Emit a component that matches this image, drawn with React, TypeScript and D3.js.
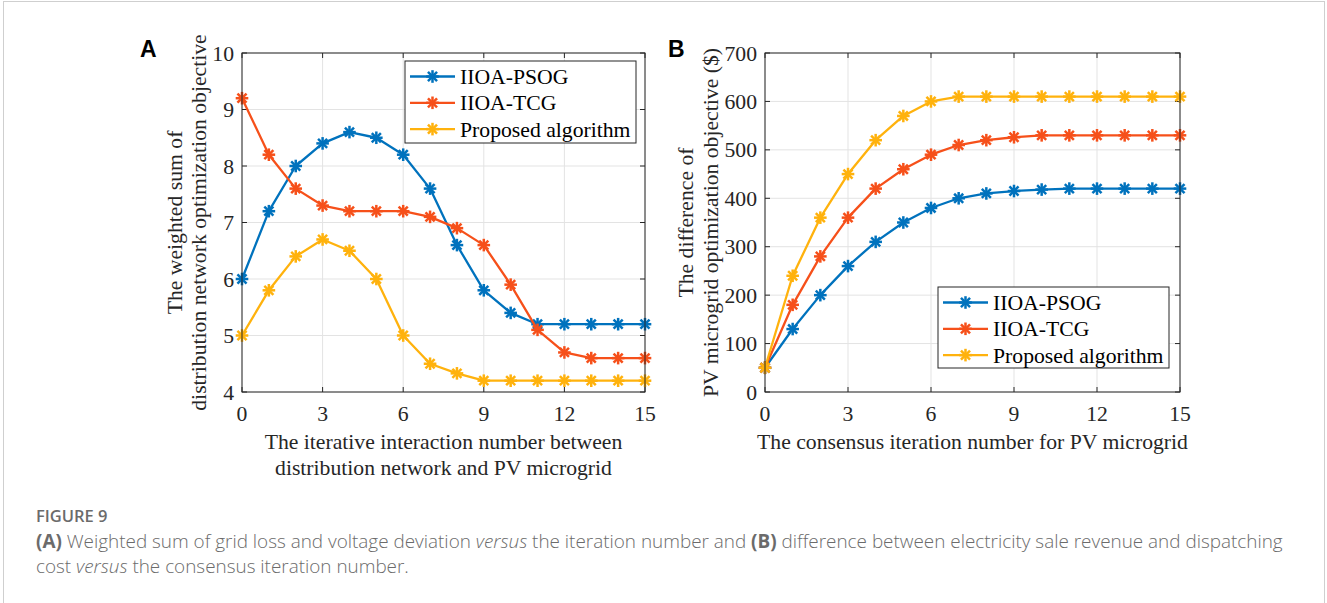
import React from "react";
import * as d3 from "d3";

const iterations = d3.range(0, 16);

// Panel A
const aPSOG = [6, 7.2, 8, 8.4, 8.6, 8.5, 8.2, 7.6, 6.6, 5.8, 5.4, 5.2, 5.2, 5.2, 5.2, 5.2];
const aTCG = [9.2, 8.2, 7.6, 7.3, 7.2, 7.2, 7.2, 7.1, 6.9, 6.6, 5.9, 5.1, 4.7, 4.6, 4.6, 4.6];
const aProposed = [5, 5.8, 6.4, 6.7, 6.5, 6.0, 5.0, 4.5, 4.33, 4.2, 4.2, 4.2, 4.2, 4.2, 4.2, 4.2];

// Panel B
const bPSOG = [50, 130, 200, 260, 310, 350, 380, 400, 410, 415, 418, 420, 420, 420, 420, 420];
const bTCG = [50, 180, 280, 360, 420, 460, 490, 510, 520, 526, 530, 530, 530, 530, 530, 530];
const bProposed = [50, 240, 360, 450, 520, 570, 600, 610, 610, 610, 610, 610, 610, 610, 610, 610];

const seriesNames = ["IIOA-PSOG", "IIOA-TCG", "Proposed algorithm"];
const colors = ["#0072BD", "#F6501A", "#FFB20D"];

const xTicks = [0, 3, 6, 9, 12, 15];
const aYTicks = [4, 5, 6, 7, 8, 9, 10];
const bYTicks = [0, 100, 200, 300, 400, 500, 600, 700];

const serif = "'Liberation Serif', 'Times New Roman', serif";
const fs = 21.7;
const axisColor = "#262626";
const gridColor = "#E3E3E3";

function Star({ x, y, color }: { x: number; y: number; color: string }) {
  const r = 6.3;
  const d = r * 0.72;
  return (
    <g stroke={color} strokeWidth={2.5} strokeLinecap="butt">
      <line x1={x - r} y1={y} x2={x + r} y2={y} />
      <line x1={x} y1={y - r} x2={x} y2={y + r} />
      <line x1={x - d} y1={y - d} x2={x + d} y2={y + d} />
      <line x1={x - d} y1={y + d} x2={x + d} y2={y - d} />
    </g>
  );
}

type PanelProps = {
  left: number;
  right: number;
  top: number;
  bottom: number;
  yDomain: [number, number];
  yTicks: number[];
  series: number[][];
  xLabel: string[];
  yLabel: string[];
  yLabelX: number[];
  legend: { x: number; y: number; w: number; h: number };
  letter: string;
  letterX: number;
};

function Panel(p: PanelProps) {
  const x = d3.scaleLinear().domain([0, 15]).range([p.left, p.right]);
  const y = d3.scaleLinear().domain(p.yDomain).range([p.bottom, p.top]);
  const line = d3
    .line<number>()
    .x((_, i) => x(iterations[i]))
    .y((d) => y(d));
  const tl = 5;
  const cy = (p.top + p.bottom) / 2;
  const cx = (p.left + p.right) / 2;
  const rowH = 26.3;
  return (
    <g>
      {xTicks.map((t) => (
        <line key={"gx" + t} x1={x(t)} x2={x(t)} y1={p.top} y2={p.bottom} stroke={gridColor} strokeWidth={1} />
      ))}
      {p.yTicks.map((t) => (
        <line key={"gy" + t} x1={p.left} x2={p.right} y1={y(t)} y2={y(t)} stroke={gridColor} strokeWidth={1} />
      ))}
      {xTicks.map((t) => (
        <g key={"tx" + t} stroke={axisColor} strokeWidth={1}>
          <line x1={x(t)} x2={x(t)} y1={p.bottom} y2={p.bottom - tl} />
          <line x1={x(t)} x2={x(t)} y1={p.top} y2={p.top + tl} />
        </g>
      ))}
      {p.yTicks.map((t) => (
        <g key={"ty" + t} stroke={axisColor} strokeWidth={1}>
          <line x1={p.left} x2={p.left + tl} y1={y(t)} y2={y(t)} />
          <line x1={p.right} x2={p.right - tl} y1={y(t)} y2={y(t)} />
        </g>
      ))}
      {p.series.map((s, si) => (
        <g key={"s" + si}>
          <path d={line(s) || ""} fill="none" stroke={colors[si]} strokeWidth={2.3} strokeLinejoin="round" />
          {s.map((v, i) => (
            <Star key={i} x={x(iterations[i])} y={y(v)} color={colors[si]} />
          ))}
        </g>
      ))}
      <rect x={p.left} y={p.top} width={p.right - p.left} height={p.bottom - p.top} fill="none" stroke={axisColor} strokeWidth={1} />
      {xTicks.map((t) => (
        <text key={"lx" + t} x={x(t)} y={p.bottom + 29} textAnchor="middle" fontFamily={serif} fontSize={fs} fill={axisColor}>
          {t}
        </text>
      ))}
      {p.yTicks.map((t) => (
        <text key={"ly" + t} x={p.left - 8} y={y(t) + 7.5} textAnchor="end" fontFamily={serif} fontSize={fs} fill={axisColor}>
          {t}
        </text>
      ))}
      {p.xLabel.map((l, i) => (
        <text key={"xl" + i} x={cx} y={p.bottom + 57 + i * 25.5} textAnchor="middle" fontFamily={serif} fontSize={fs} fill={axisColor}>
          {l}
        </text>
      ))}
      {p.yLabel.map((l, i) => (
        <text
          key={"yl" + i}
          transform={`translate(${p.yLabelX[i]},${cy}) rotate(-90)`}
          textAnchor="middle"
          dominantBaseline="central"
          fontFamily={serif}
          fontSize={fs}
          fill={axisColor}
        >
          {l}
        </text>
      ))}
      <rect x={p.legend.x} y={p.legend.y} width={p.legend.w} height={p.legend.h} fill="white" stroke={axisColor} strokeWidth={1} />
      {seriesNames.map((n, i) => {
        const ly = p.legend.y + 15.5 + i * rowH;
        const lx = p.legend.x + 5;
        return (
          <g key={"lg" + i}>
            <line x1={lx} x2={lx + 45} y1={ly} y2={ly} stroke={colors[i]} strokeWidth={2.3} />
            <Star x={lx + 22.5} y={ly} color={colors[i]} />
            <text x={lx + 50} y={ly + 7.5} fontFamily={serif} fontSize={fs} fill="#000">
              {n}
            </text>
          </g>
        );
      })}
      <text x={p.letterX} y={57} fontFamily="'Liberation Sans', Arial, sans-serif" fontWeight="bold" fontSize={23} fill="#000">
        {p.letter}
      </text>
    </g>
  );
}

export default function App() {
  const capFont = "'Open Sans', 'Noto Sans', sans-serif";
  const capColor = "#6B6B6B";
  return (
    <svg width={1327} height={603} style={{ position: "absolute", left: 0, top: 0, background: "white" }}>
      <rect x={3.5} y={1.5} width={1321} height={640} fill="white" stroke="#CFCFCF" strokeWidth={1} />
      <Panel
        left={242}
        right={645}
        top={53}
        bottom={392}
        yDomain={[4, 10]}
        yTicks={aYTicks}
        series={[aPSOG, aTCG, aProposed]}
        xLabel={["The iterative interaction number between", "distribution network and PV microgrid"]}
        yLabel={["The weighted sum of", "distribution network optimization objective"]}
        yLabelX={[175, 199]}
        legend={{ x: 405, y: 61, w: 231, h: 82 }}
        letter="A"
        letterX={140}
      />
      <Panel
        left={765}
        right={1180}
        top={53}
        bottom={392}
        yDomain={[0, 700]}
        yTicks={bYTicks}
        series={[bPSOG, bTCG, bProposed]}
        xLabel={["The consensus iteration number for PV microgrid"]}
        yLabel={["The difference of", "PV microgrid optimization objective ($)"]}
        yLabelX={[686, 711]}
        legend={{ x: 938, y: 287, w: 231, h: 81 }}
        letter="B"
        letterX={668}
      />
      <text x={36} y={522} fontFamily={capFont} fontSize={16.5} fontWeight={600} fill={capColor}>
        FIGURE 9
      </text>
      <text x={36} y={548} fontFamily={capFont} fontSize={18.9} fill={capColor} fontWeight={300}>
        <tspan fontWeight={700}>(A)</tspan>
        <tspan> Weighted sum of grid loss and voltage deviation </tspan>
        <tspan fontStyle="italic">versus</tspan>
        <tspan> the iteration number and </tspan>
        <tspan fontWeight={700}>(B)</tspan>
        <tspan> difference between electricity sale revenue and dispatching</tspan>
      </text>
      <text x={36} y={573} fontFamily={capFont} fontSize={18.9} fill={capColor} fontWeight={300}>
        <tspan>cost </tspan>
        <tspan fontStyle="italic">versus</tspan>
        <tspan> the consensus iteration number.</tspan>
      </text>
    </svg>
  );
}
